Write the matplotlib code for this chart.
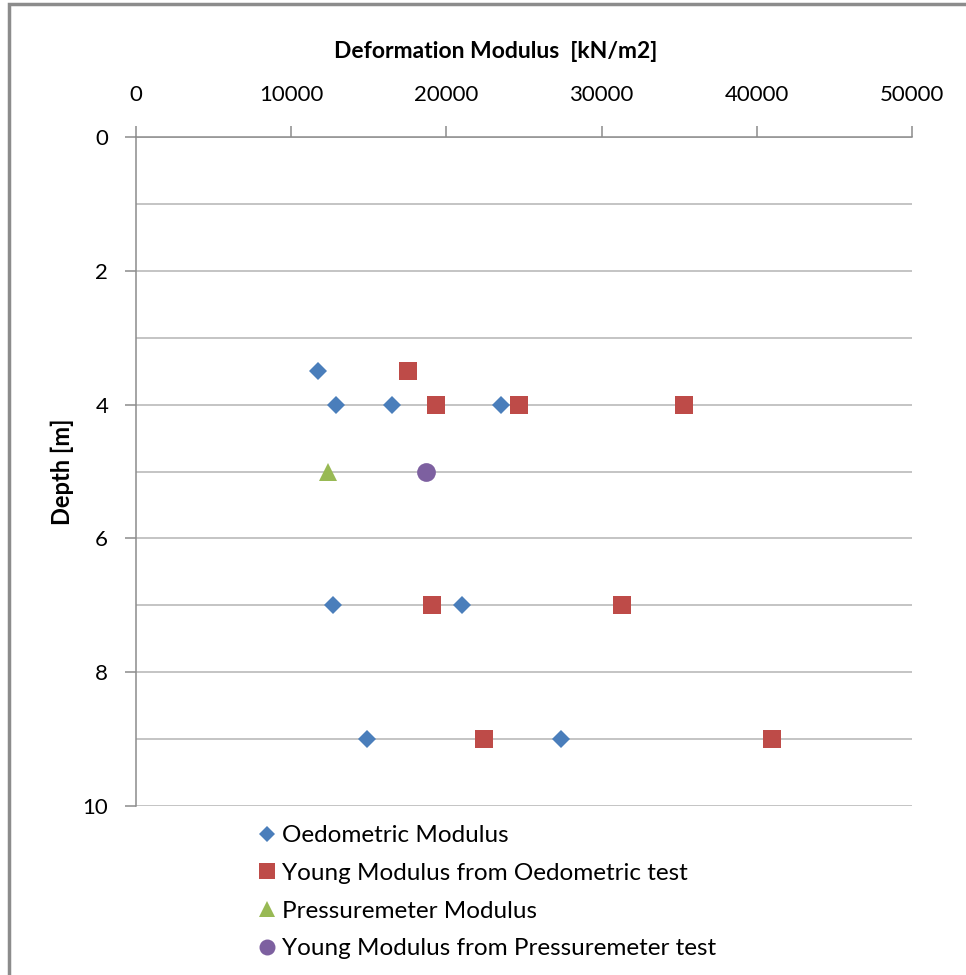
import matplotlib.pyplot as plt
from matplotlib.patches import Rectangle
from matplotlib.lines import Line2D

plt.rcParams['font.family'] = ['Lato', 'DejaVu Sans']

# depth [m] and modulus [kN/m2] for each test series
oedo_depth = [3.5, 4, 4, 4, 7, 7, 9, 9]
oedo_mod = [11700, 12900, 16500, 23500, 12700, 21000, 14900, 27400]

young_oedo_depth = [3.5, 4, 4, 4, 7, 7, 9, 9]
young_oedo_mod = [17500, 19300, 24700, 35300, 19100, 31300, 22400, 41000]

press_depth = [5]
press_mod = [12400]

young_press_depth = [5]
young_press_mod = [18700]

labels = ['Oedometric Modulus', 'Young Modulus from Oedometric test',
          'Pressuremeter Modulus', 'Young Modulus from Pressuremeter test']
colors = ['#4A7EBB', '#BE4B48', '#98B954', '#7D60A0']

W, H = 966, 975
fig = plt.figure(figsize=(W / 100, H / 100), dpi=100)
ax = fig.add_axes([136 / W, 1 - 806 / H, 776 / W, 669 / H])

# outer frame
fig.patches.append(Rectangle((9 / W, -0.02), 1.0, 1 - 4 / H + 0.02, transform=fig.transFigure,
                             fill=False, edgecolor='#8C8C8C', linewidth=2.5))

ax.plot(oedo_mod, oedo_depth, 'D', color=colors[0], markersize=9, markeredgewidth=0, zorder=3)
ax.plot(young_oedo_mod, young_oedo_depth, 's', color=colors[1], markersize=13.5, markeredgewidth=0, zorder=3)
ax.plot(press_mod, press_depth, '^', color=colors[2], markersize=13.5, markeredgewidth=0, zorder=3)
ax.plot(young_press_mod, young_press_depth, 'o', color=colors[3], markersize=13.5, markeredgewidth=0, zorder=3)

ax.set_xlim(0, 50000)
ax.set_ylim(10, 0)
ax.set_xticks(range(0, 50001, 10000))
ax.set_yticks(range(0, 11, 2))
ax.xaxis.tick_top()

for y in range(0, 11):
    ax.axhline(y, color='#B4B4B4', linewidth=1.1, zorder=1)

for side in ['right', 'bottom']:
    ax.spines[side].set_visible(False)
for side in ['left', 'top']:
    ax.spines[side].set_color('#8C8C8C')
    ax.spines[side].set_linewidth(1.1)

ax.tick_params(axis='both', direction='out', length=8, width=1.1,
               color='#8C8C8C', labelsize=16)
ax.tick_params(axis='x', pad=15)
ax.tick_params(axis='y', pad=12)

fig.text(496 / W, 1 - 51 / H, 'Deformation Modulus  [kN/m2]', fontsize=16.5,
         fontweight='bold', ha='center', va='center')
fig.text(62 / W, 1 - 472 / H, 'Depth [m]', fontsize=17, fontweight='bold',
         rotation=90, ha='center', va='center')

handles = [
    Line2D([], [], linestyle='none', marker='D', color=colors[0], markersize=8, markeredgewidth=0),
    Line2D([], [], linestyle='none', marker='s', color=colors[1], markersize=11.5, markeredgewidth=0),
    Line2D([], [], linestyle='none', marker='^', color=colors[2], markersize=11.5, markeredgewidth=0),
    Line2D([], [], linestyle='none', marker='o', color=colors[3], markersize=11.5, markeredgewidth=0),
]
fig.legend(handles, labels, loc='upper left', bbox_to_anchor=(257 / W, 1 - 825 / H),
           frameon=False, fontsize=17.5, handlelength=0.8, handletextpad=0.23,
           labelspacing=0.69, borderaxespad=0, borderpad=0)

fig.savefig('out.png', dpi=100)
